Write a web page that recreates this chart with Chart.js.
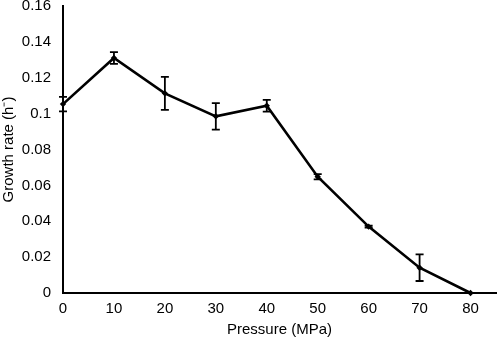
<!DOCTYPE html>
<html>
<head>
<meta charset="utf-8">
<script src="https://cdn.jsdelivr.net/npm/chart.js@4"></script>
<style>
html,body{margin:0;padding:0;background:#fff;}
#wrap{width:500px;height:343px;position:relative;}
</style>
</head>
<body>
<div id="wrap"><canvas id="c" width="500" height="343"></canvas></div>
<script>
const pressures = [0, 10, 20, 30, 40, 50, 60, 70, 80];
const growthRates = [0.1053, 0.1310, 0.1113, 0.0985, 0.1044, 0.0648, 0.0370, 0.0141, 0.0];
const errors = [0.0040, 0.0033, 0.0092, 0.0074, 0.0033, 0.0015, 0.0006, 0.0074, 0.0];
const yTickValues = [0, 0.02, 0.04, 0.06, 0.08, 0.1, 0.12, 0.14, 0.16];
const xTitle = 'Pressure (MPa)';
const yTitle = 'Growth rate (h\u207B)';

const errorBarPlugin = {
  id: 'errorBars',
  afterDatasetsDraw(chart) {
    const ctx = chart.ctx;
    const xs = chart.scales.x, ys = chart.scales.y;
    ctx.save();
    ctx.strokeStyle = '#000';
    ctx.lineWidth = 1.8;
    pressures.forEach((p, i) => {
      const e = errors[i];
      if (!e) return;
      const x = xs.getPixelForValue(p);
      const yT = ys.getPixelForValue(growthRates[i] + e);
      const yB = ys.getPixelForValue(growthRates[i] - e);
      ctx.beginPath();
      ctx.moveTo(x, yT); ctx.lineTo(x, yB);
      ctx.moveTo(x - 4, yT); ctx.lineTo(x + 4, yT);
      ctx.moveTo(x - 4, yB); ctx.lineTo(x + 4, yB);
      ctx.stroke();
    });
    ctx.restore();
  }
};

const font = { family: '"Liberation Sans", Arial, sans-serif', size: 15 };
const yTickFont = { family: '"Liberation Sans", Arial, sans-serif', size: 15, lineHeight: 0.8 };

new Chart(document.getElementById('c'), {
  type: 'line',
  data: {
    datasets: [{
      data: pressures.map((p, i) => ({ x: p, y: growthRates[i] })),
      borderColor: '#000',
      backgroundColor: '#000',
      borderWidth: 2.6,
      pointRadius: 3.2,
      pointStyle: 'rectRot',
      pointBorderWidth: 0,
      tension: 0,
      clip: false
    }]
  },
  options: {
    responsive: false,
    animation: false,
    devicePixelRatio: 1,
    layout: { padding: { left: 0, top: 6, right: 1, bottom: 0 } },
    plugins: { legend: { display: false }, tooltip: { enabled: false } },
    scales: {
      x: {
        type: 'linear',
        min: 0, max: 85,
        afterBuildTicks(scale) {
          scale.ticks = pressures.map(v => ({ value: v }));
        },
        afterFit(scale) { scale.height = 50; },
        grid: { display: false, drawOnChartArea: false, drawTicks: true, tickLength: 5, tickColor: '#000', tickWidth: 1.5 },
        border: { display: true, color: '#000', width: 2 },
        ticks: { color: '#000', font, padding: 2, maxRotation: 0, callback: v => String(v) },
        title: { display: true, text: xTitle, color: '#000', font, padding: { top: 3 } }
      },
      y: {
        min: 0, max: 0.16,
        afterBuildTicks(scale) {
          scale.ticks = yTickValues.map(v => ({ value: v }));
        },
        afterFit(scale) { scale.width = 63; scale.paddingTop = 0; scale.paddingBottom = 0; },
        grid: { display: false, drawOnChartArea: false, drawTicks: true, tickLength: 5, tickColor: '#000', tickWidth: 1.5 },
        border: { display: true, color: '#000', width: 2 },
        ticks: { color: '#000', font: yTickFont, padding: 7, callback: v => String(+v.toFixed(2)) },
        title: { display: true, text: yTitle, color: '#000', font, padding: { top: 0, bottom: 0 } }
      }
    }
  },
  plugins: [errorBarPlugin]
});
</script>
</body>
</html>
